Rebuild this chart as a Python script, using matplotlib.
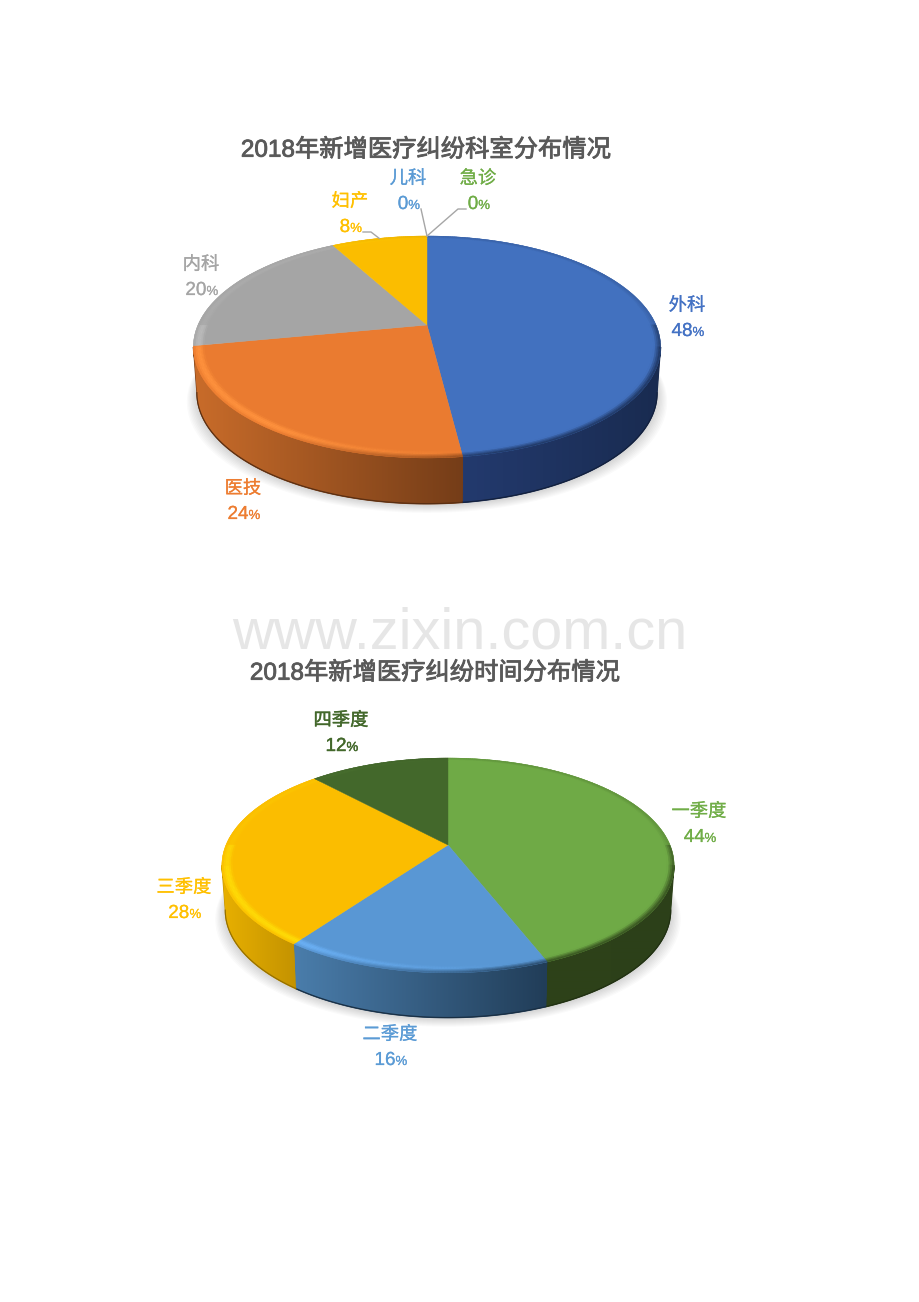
import numpy as np
import matplotlib
matplotlib.use("Agg")
import matplotlib.pyplot as plt
from matplotlib.collections import PolyCollection
from matplotlib.colors import to_rgb, LinearSegmentedColormap
from matplotlib.patches import Polygon
import matplotlib.patheffects as pe

# first chart
dept_title = "2018年新增医疗纠纷科室分布情况"
dept_names = ["外科", "医技", "内科", "妇产", "儿科", "急诊"]
dept_values = [48, 24, 20, 8, 0, 0]
dept_colors = ["#4271BF", "#EA7B30", "#A5A5A5", "#FBBD00", "#5B9BD5", "#70AD47"]
dept_text_colors = ["#4472C4", "#ED7D31", "#A5A5A5", "#FFC000", "#5B9BD5", "#70AD47"]
dept_side_left = ["#233A6E", "#C96C2A", "#8C8C8C", "#C89A00", "#5B9BD5", "#70AD47"]
dept_side_right = ["#192B50", "#753D18", "#707070", "#A07A00", "#5B9BD5", "#70AD47"]
dept_label_xy = [(687, 304), (243, 487), (201, 263), (350, 200), (408, 177), (478, 177)]

# second chart
time_title = "2018年新增医疗纠纷时间分布情况"
time_names = ["一季度", "二季度", "三季度", "四季度"]
time_values = [44, 16, 28, 12]
time_colors = ["#6FAA46", "#5997D4", "#FBBD00", "#43682B"]
time_text_colors = ["#70AD47", "#5B9BD5", "#FFC000", "#43682B"]
time_side_left = ["#2E4219", "#4A7DAB", "#E8B000", "#2E4219"]
time_side_right = ["#2C4019", "#213D58", "#C49300", "#2E4219"]
time_label_xy = [(699, 810), (390, 1033), (184, 886), (341, 719)]

LATIN_CJK = ["Liberation Sans", "Noto Sans CJK SC", "DejaVu Sans"]


def rim(theta, cx, cy, rx, ry, k, r=1.0):
    # perspective view of a flat disc, theta clockwise from the top
    u = r * np.sin(theta)
    v = r * np.cos(theta)
    w = 1 + k * v
    return cx + rx * u / w, cy - ry * v / w


def mix(a, b, t):
    return tuple(a[i] + (b[i] - a[i]) * t for i in range(3))


def draw_pie(ax, values, colors, side_left, side_right, cx, cy, rx, ry, k, depth):
    fractions = np.array(values) / sum(values)
    edges = np.concatenate([[0], np.cumsum(fractions)]) * 2 * np.pi
    front_start = np.arccos(-k)
    front_end = 2 * np.pi - front_start
    shrink = 0.985

    # soft shadow under the disc
    full = np.linspace(0, 2 * np.pi, 240)
    sx, sy = rim(full, cx, cy, rx, ry, k)
    for grow in np.arange(10, 0, -1.25):
        sc = (rx + grow) / rx * shrink
        pts = np.column_stack([cx + (sx - cx) * sc, sy + depth + 1 + grow * 0.8])
        ax.add_patch(Polygon(pts, closed=True, fc="#000000", ec="none", alpha=0.018, zorder=1))

    # outer wall, one gradient per slice
    for i in range(len(values)):
        a0 = max(edges[i], front_start)
        a1 = min(edges[i + 1], front_end)
        if a1 <= a0:
            continue
        t = np.linspace(a0, a1, 120)
        x, y = rim(t, cx, cy, rx, ry, k)
        xb = cx + (x - cx) * shrink
        yb = y + depth
        pts = np.column_stack([np.concatenate([x, xb[::-1]]), np.concatenate([y, yb[::-1]])])
        # plain fill below the gradient so no white seam shows between slices
        ax.add_patch(Polygon(pts, closed=True, fc=side_right[i], ec=side_right[i], lw=0.8, zorder=2))
        poly = Polygon(pts, closed=True, fc="none", ec="none", transform=ax.transData)
        ax.add_patch(poly)
        cmap = LinearSegmentedColormap.from_list("wall", [side_left[i], side_right[i]])
        grad = np.linspace(0, 1, 128).reshape(1, -1)
        im = ax.imshow(grad, extent=(x.min(), x.max() + 0.5, yb.max() + 1, y.min()),
                       cmap=cmap, aspect="auto", zorder=2.5, interpolation="bilinear")
        im.set_clip_path(poly)
        ax.plot(xb, yb - 0.3, color=mix(to_rgb(side_right[i]), (0, 0, 0), 0.25), lw=0.8, zorder=3)

    # top faces
    for i in range(len(values)):
        if values[i] == 0:
            continue
        t = np.linspace(edges[i], edges[i + 1], 200)
        x, y = rim(t, cx, cy, rx, ry, k)
        pts = np.vstack([[cx, cy], np.column_stack([x, y])])
        ax.add_patch(Polygon(pts, closed=True, fc=colors[i], ec=colors[i], lw=0.3, zorder=4))

    # bevel along the rim, light on the left and dark on the right
    rings = np.linspace(0.955, 1.0, 7)
    quads, cols = [], []
    for i in range(len(values)):
        if values[i] == 0:
            continue
        steps = max(int((edges[i + 1] - edges[i]) * 90), 2)
        t = np.linspace(edges[i], edges[i + 1], steps + 1)
        face = to_rgb(colors[i])
        for j in range(steps):
            tm = (t[j] + t[j + 1]) / 2
            u, v = np.sin(tm), np.cos(tm)
            if tm < front_start or tm > front_end:
                strength = 0.25 if v > 0 else 0.8
            else:
                strength = 1.0
            light = max(0.0, min(1.0, (0.25 - u) / 0.8))
            for n in range(len(rings) - 1):
                x0, y0 = rim(t[j], cx, cy, rx, ry, k, rings[n])
                x1, y1 = rim(t[j + 1], cx, cy, rx, ry, k, rings[n])
                x2, y2 = rim(t[j + 1], cx, cy, rx, ry, k, rings[n + 1])
                x3, y3 = rim(t[j], cx, cy, rx, ry, k, rings[n + 1])
                f = (n + 0.5) / (len(rings) - 1)
                bright = tuple(min(1.0, c * 1.12 + 0.03) for c in face)
                dark = mix(face, to_rgb(side_right[i]), 0.9)
                col = mix(face, bright, np.sin(np.pi * f) * light * strength)
                col = mix(col, dark, max(0.0, f - 0.4) / 0.6 * (1 - light) * strength)
                quads.append([(x0, y0), (x1, y1), (x2, y2), (x3, y3)])
                cols.append(col)
    ax.add_collection(PolyCollection(quads, facecolors=cols, edgecolors=cols, linewidths=0.25, zorder=5))
    return edges


def label(ax, xy, name, value, color, stroke=0.15):
    fx = [pe.withStroke(linewidth=stroke, foreground=color)]
    ax.text(xy[0], xy[1] + 2, name, color=color, fontsize=13.2, ha="center", va="center",
            family=LATIN_CJK, zorder=8, path_effects=fx)
    # the percent sign is set much smaller than the digits
    digits = str(value)
    split = xy[0] + (10.5 * len(digits) - 9) / 2 - 0.5
    base = xy[1] + 32
    ax.text(split, base, digits, color=color, fontsize=13.6, ha="right", va="baseline",
            family=LATIN_CJK, zorder=8, path_effects=fx)
    ax.text(split, base, "%", color=color, fontsize=9.5, ha="left", va="baseline",
            family=LATIN_CJK, zorder=8, path_effects=fx)


fig = plt.figure(figsize=(9.2, 13.02), dpi=100, facecolor="white")
ax = fig.add_axes([0, 0, 1, 1])

ax.text(460, 633.5, "www.zixin.com.cn", color="#E6E6E6", fontsize=41.5, ha="center", va="center",
        family="Liberation Sans", zorder=0)

title_fx = [pe.withStroke(linewidth=0.6, foreground="#595959")]
ax.text(425.5, 150, dept_title, color="#595959", fontsize=17.5, ha="center", va="center",
        family=LATIN_CJK, path_effects=title_fx, zorder=8)
ax.text(434.5, 673, time_title, color="#595959", fontsize=17.5, ha="center", va="center",
        family=LATIN_CJK, path_effects=title_fx, zorder=8)

p1 = (427, 325, 229, 106.6, 0.198)
edges1 = draw_pie(ax, dept_values, dept_colors, dept_side_left, dept_side_right, *p1, 46)
p2 = (448, 845, 222, 103.5, 0.19)
draw_pie(ax, time_values, time_colors, time_side_left, time_side_right, *p2, 45)

for i in range(len(dept_names)):
    label(ax, dept_label_xy[i], dept_names[i], dept_values[i], dept_text_colors[i])
for i in range(len(time_names)):
    label(ax, time_label_xy[i], time_names[i], time_values[i], time_text_colors[i],
          stroke=0.3 if i == 3 else 0.15)

# leader lines for the three small slices
leader_elbows = {3: [(363, 232), (371, 232)], 4: [(421, 209)], 5: [(466, 209), (458, 209)]}
for i, elbow in leader_elbows.items():
    ex, ey = rim((edges1[i] + edges1[i + 1]) / 2, *p1)
    xs = [p[0] for p in elbow] + [ex]
    ys = [p[1] for p in elbow] + [ey]
    ax.plot(xs, ys, color="#A6A6A6", lw=1.0, zorder=6)

ax.set_xlim(0, 920)
ax.set_ylim(1302, 0)
ax.axis("off")
fig.savefig("out.png", dpi=100, facecolor="white")
